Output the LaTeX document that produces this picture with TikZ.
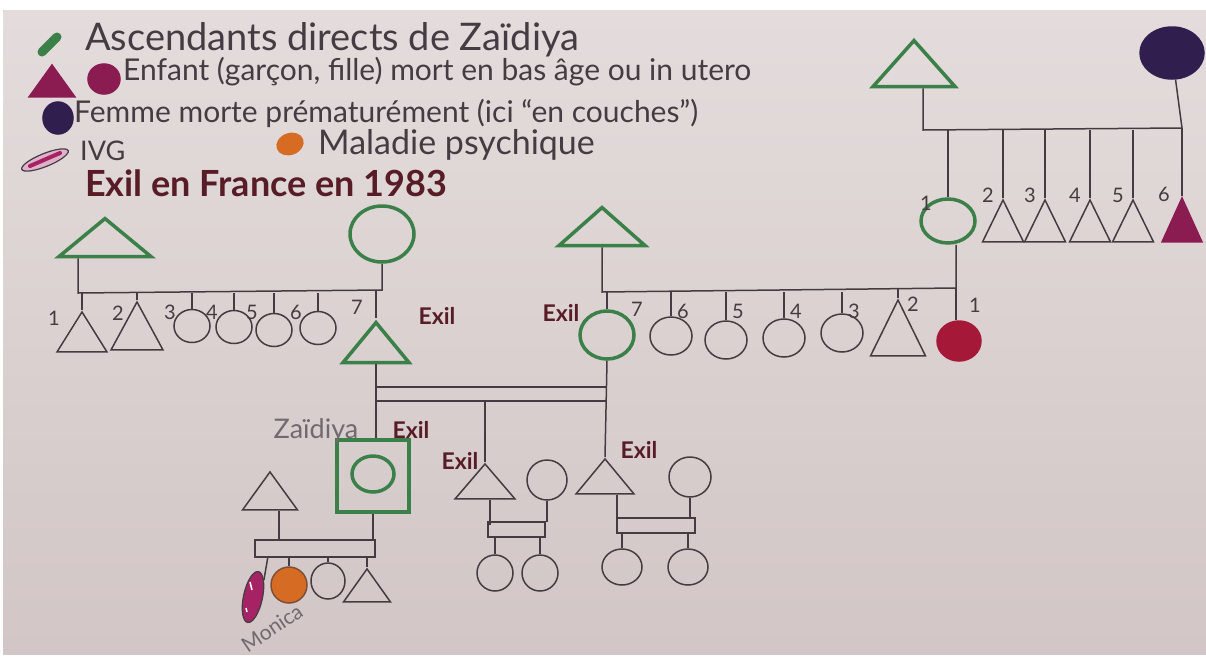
\documentclass[tikz,border=0pt]{standalone}
\usepackage{fontspec}
\setmainfont{Lato}
\usetikzlibrary{shapes.geometric}
\definecolor{paper}{RGB}{228,220,220}
\definecolor{paperlow}{RGB}{210,198,198}
\definecolor{ink}{RGB}{68,60,66}
\definecolor{ascgreen}{RGB}{58,128,72}
\definecolor{plum}{RGB}{138,28,82}
\definecolor{crimson}{RGB}{165,24,55}
\definecolor{navy}{RGB}{48,30,78}
\definecolor{psyorange}{RGB}{214,108,36}
\definecolor{exilred}{RGB}{88,28,38}
\definecolor{ivgpink}{RGB}{165,35,100}
\definecolor{pencil}{RGB}{112,106,112}

\begin{document}
\begin{tikzpicture}[x=1pt,y=-1pt,
    pen/.style={draw=ink,line width=1.5pt},
    man/.style={isosceles triangle,shape border rotate=90,isosceles triangle stretches,
      inner sep=0pt,anchor=apex,draw=ink,line width=1.5pt},
    woman/.style={ellipse,inner sep=0pt,draw=ink,line width=1.5pt},
    direct/.style={draw=ascgreen,line width=3.5pt},
    num/.style={font=\fontsize{20}{20}\selectfont,text=ink,inner sep=0pt},
    exil/.style={font=\fontsize{23}{23}\selectfont\bfseries,text=exilred,inner sep=0pt},
    legtext/.style={anchor=west,inner sep=0pt,text=ink},
    handname/.style={font=\fontsize{27}{27}\selectfont,text=pencil,inner sep=0pt}]

  % paper
  \fill[white] (0,0) rectangle (1206,659);
  \shade[top color=paper,bottom color=paperlow] (3,10) rectangle (1206,654);

  % legend
  \draw[ascgreen,line width=9pt,line cap=round] (42,52) -- (57,37);
  \node[legtext,font=\fontsize{38}{38}\selectfont] (lg1) at (85,40) {Ascendants directs de Zaïdiya};
  \node[man,draw=plum,fill=plum,minimum width=46pt,minimum height=32pt] (lgboy) at (52,63) {};
  \node[woman,draw=plum,fill=plum,minimum width=32pt,minimum height=30pt] (lggirl) at (104,79) {};
  \node[legtext,font=\fontsize{30}{30}\selectfont] (lg2) at (123,72) {Enfant (garçon, fille) mort en bas âge ou in utero};
  \node[woman,draw=navy,fill=navy,minimum width=30pt,minimum height=32pt] (lgwoman) at (58,118) {};
  \node[legtext,font=\fontsize{30}{30}\selectfont] (lg3) at (74,113) {Femme morte prématurément (ici “en couches”)};
  \node[ellipse,draw=ink,line width=1.2pt,fill=ivgpink!35,minimum width=50pt,minimum height=13pt,rotate=22] (lgivg) at (45,160) {};
  \draw[ivgpink,line width=4pt,line cap=round] (30,166) -- (60,153);
  \node[legtext,font=\fontsize{27}{27}\selectfont] (lg4) at (80,151) {IVG};
  \node[ellipse,fill=psyorange,minimum width=28pt,minimum height=22pt,rotate=20] (lgpsy) at (290,144) {};
  \node[legtext,font=\fontsize{34}{34}\selectfont] (lg5) at (318,145) {Maladie psychique};
  \node[legtext,font=\fontsize{36}{36}\selectfont\bfseries,text=exilred] (lg6) at (85,183) {Exil en France en 1983};

  % great-grandparents (top right)
  \node[man,direct,minimum width=82pt,minimum height=46pt] (ggf) at (914,36) {};
  \node[woman,draw=navy,fill=navy,minimum width=64pt,minimum height=52pt] (ggm) at (1172,53) {};
  \coordinate (sibG1) at (923,130);
  \coordinate (sibG2) at (1182,128);
  \draw[pen] (ggf.south -| sibG1) -- (sibG1) -- (sibG2) -- (ggm);
  \node[woman,direct,minimum width=54pt,minimum height=44pt] (mgm) at (948,221) {};
  \draw[pen] (mgm.north |- sibG1) -- (mgm.north);
  \node[num] (ngm) at (926,203) {1};
  \foreach \x/\n in {1003/2,1045/3,1090/4,1133/5} {
    \node[man,minimum width=41pt,minimum height=42pt] (gs\n) at (\x,198) {};
    \draw[pen] (gs\n.apex |- sibG1) -- (gs\n.apex);
    \node[num] (ngs\n) at (\x-15,195) {\n};
  }
  \node[man,draw=plum,fill=plum,minimum width=40pt,minimum height=44pt] (gs6) at (1182,196) {};
  \draw[pen] (gs6.apex |- sibG2) -- (gs6.apex);
  \node[num] (ngs6) at (1164,194) {6};

  % paternal grandparents
  \node[man,direct,minimum width=92pt,minimum height=38pt] (pgf) at (105,214) {};
  \node[woman,direct,minimum width=64pt,minimum height=56pt] (pgm) at (382,234) {};
  \coordinate (sibP1) at (78,293);
  \coordinate (sibP2) at (382,290);
  \draw[pen] (pgf.south -| sibP1) -- (sibP1) -- (sibP2) -- (pgm);
  \node[man,minimum width=50pt,minimum height=40pt] (pt1) at (82,310) {};
  \node[man,minimum width=52pt,minimum height=48pt] (pt2) at (137,300) {};
  \draw[pen] (pt1.apex |- sibP1) -- (pt1.apex);
  \draw[pen] (pt2.apex |- sibP1) -- (pt2.apex);
  \node[num] (npt1) at (54,318) {1};
  \node[num] (npt2) at (118,313) {2};
  \foreach \x/\y/\n in {192/326/3,234/327/4,274/330/5,318/328/6} {
    \node[woman,minimum width=36pt,minimum height=33pt] (pt\n) at (\x,\y) {};
    \draw[pen] (pt\n.north |- sibP1) -- (pt\n.north);
    \node[num] (npt\n) at (\x-22,312) {\n};
  }
  \node[man,direct,minimum width=66pt,minimum height=40pt] (father) at (376,318) {};
  \draw[pen] (father.apex |- sibP2) -- (father.apex);
  \node[num] (nfather) at (357,307) {7};
  \node[exil] (exfather) at (437,316) {Exil};

  % maternal grandparents
  \node[man,direct,minimum width=86pt,minimum height=38pt] (mgf) at (602,203) {};
  \coordinate (sibM1) at (602,292);
  \coordinate (sibM2) at (956,288);
  \draw[pen] (mgf.south -| sibM1) -- (sibM1) -- (sibM2) -- (mgm.south -| sibM2);
  \node[woman,direct,minimum width=54pt,minimum height=48pt] (mother) at (607,335) {};
  \draw[pen] (mother.north |- sibM1) -- (mother.north);
  \node[exil] (exmother) at (561,313) {Exil};
  \node[num] (nmother) at (637,309) {7};
  \foreach \x/\y/\n in {671/336/6,726/340/5,784/338/4,842/333/3} {
    \node[woman,minimum width=42pt,minimum height=38pt] (mt\n) at (\x,\y) {};
    \draw[pen] (mt\n.north |- sibM1) -- (mt\n.north);
    \node[num] (nmt\n) at (\x+12,311) {\n};
  }
  \node[man,minimum width=55pt,minimum height=56pt] (mt2) at (898,298) {};
  \draw[pen] (mt2.apex |- sibM2) -- (mt2.apex);
  \node[num] (nmt2) at (913,304) {2};
  \node[woman,draw=crimson,fill=crimson,minimum width=44pt,minimum height=40pt] (mt1) at (959,341) {};
  \draw[pen] (sibM2) -- (sibM2 |- mt1.north);
  \node[num] (nmt1) at (975,305) {1};

  % parents and their children
  \coordinate (barA) at (377,387);
  \coordinate (barB) at (607,387);
  \coordinate (barC) at (377,401);
  \coordinate (barD) at (607,401);
  \draw[pen] (barA) -- (barB) (barC) -- (barD);
  \node[rectangle,direct,minimum width=72pt,minimum height=72pt,inner sep=0pt] (zaid) at (373,476) {};
  \node[ellipse,direct,minimum width=42pt,minimum height=36pt,inner sep=0pt] (zaidin) at (373,474) {};
  \draw[pen] (father.south) -- (father.south |- zaid.north);
  \node[handname] (nzaid) at (316,431) {Zaïdiya};
  \node[exil] (exzaid) at (411,430) {Exil};
  \node[man,minimum width=60pt,minimum height=35pt] (bro1) at (485,462) {};
  \draw[pen] (barC -| bro1.apex) -- (bro1.apex);
  \node[exil] (exbro1) at (460,461) {Exil};
  \node[man,minimum width=58pt,minimum height=35pt] (bro2) at (605,457) {};
  \draw[pen] (mother.south) -- (bro2.apex);
  \node[exil] (exbro2) at (639,450) {Exil};

  % Zaidiya's family
  \node[man,minimum width=55pt,minimum height=38pt] (husb) at (270,470) {};
  \coordinate (zb1) at (255,540);
  \coordinate (zb2) at (375,557);
  \draw[pen] (zb1) rectangle (zb2);
  \draw[pen] (husb.south -| 279,0) -- (279,540);
  \draw[pen] (zaid.south) -- (zaid.south |- zb1);
  \node[ellipse,draw=ink,line width=1.2pt,fill=ivgpink,minimum width=19pt,minimum height=52pt,rotate=-12] (ivg) at (253,597) {};
  \draw[white,line width=1.5pt] (250,582) -- (252,590) (246,608) -- (247,612);
  \node[woman,draw=ink!60!psyorange,fill=psyorange,minimum width=36pt,minimum height=36pt] (monica) at (289,585) {};
  \node[woman,minimum width=34pt,minimum height=36pt] (zk3) at (328,581) {};
  \node[man,minimum width=47pt,minimum height=33pt] (zk4) at (367,567) {};
  \draw[pen] (ivg.east |- zb2) ++(5,0) -- (ivg.north east);
  \draw[pen] (monica.north |- zb2) -- (monica.north);
  \draw[pen] (zk3.north |- zb2) -- (zk3.north);
  \draw[pen] (zk4.apex |- zb2) -- (zk4.apex);
  \node[handname,font=\fontsize{21}{21}\selectfont,rotate=34] (nmonica) at (272,628) {Monica};

  % first brother's family
  \node[woman,minimum width=40pt,minimum height=40pt] (bw1) at (547,480) {};
  \coordinate (bb1) at (488,522);
  \coordinate (bb2) at (545,537);
  \draw[pen] (bb1) rectangle (bb2);
  \draw[pen] (bro1.south -| bb1) ++(2,0) -- ++(0,25);
  \draw[pen] (bw1.south) -- (bw1.south |- bb1);
  \foreach \x/\n in {495/1,540/2} {
    \node[woman,minimum width=36pt,minimum height=36pt] (bk1\n) at (\x,573) {};
    \draw[pen] (bk1\n.north |- bb2) -- (bk1\n.north);
  }

  % second brother's family
  \node[woman,minimum width=42pt,minimum height=40pt] (bw2) at (690,477) {};
  \coordinate (bc1) at (617,518);
  \coordinate (bc2) at (695,533);
  \draw[pen] (bc1) rectangle (bc2);
  \draw[pen] (bro2.south -| bc1) -- (bc1);
  \draw[pen] (bw2.south) -- (bw2.south |- bc1);
  \foreach \x/\n in {622/1,688/2} {
    \node[woman,minimum width=40pt,minimum height=36pt] (bk2\n) at (\x,567) {};
    \draw[pen] (bk2\n.north |- bc2) -- (bk2\n.north);
  }
\end{tikzpicture}
\end{document}
